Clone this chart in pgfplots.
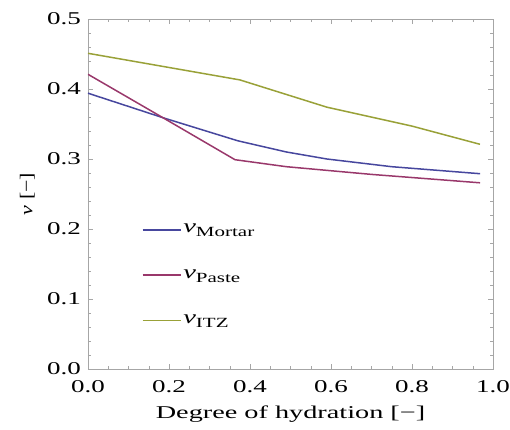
\documentclass[border=0pt]{standalone}
\usepackage{graphicx}
\usepackage{pgfplots}
\pgfplotsset{compat=1.18}
\usepackage{fontspec}
\setmainfont{Liberation Serif}
\definecolor{cM}{rgb}{0.28,0.28,0.62}
\definecolor{cP}{rgb}{0.60,0.22,0.42}
\definecolor{cI}{rgb}{0.60,0.63,0.22}
\newcommand\hs[1]{\scalebox{1.5}[1]{#1}}
\newcommand\nusub[1]{{\itshape ν}\raisebox{-4pt}{\fontsize{14}{16}\selectfont #1}}
\begin{document}
\fontsize{18}{20}\selectfont
\begin{tikzpicture}
\begin{axis}[
  scale only axis, width=405pt, height=350pt,
  xmin=0, xmax=1, ymin=0, ymax=0.5,
  xtick={0,0.2,...,1.0}, ytick={0,0.1,...,0.5},
  minor x tick num=3, minor y tick num=4,
  xticklabel={\hs{\pgfmathprintnumber[assume math mode=true,fixed,fixed zerofill,precision=1]{\tick}}},
  yticklabel={\hs{\pgfmathprintnumber[assume math mode=true,fixed,fixed zerofill,precision=1]{\tick}}},
  tick label style={font=\fontsize{18}{20}\selectfont},
  label style={font=\fontsize{18}{20}\selectfont},
  xlabel={\scalebox{1.57}[1]{Degree of hydration [−]}},
  ylabel={\scalebox{1.22}[1]{{\itshape ν} [−]}},
  axis line style={gray!70, line width=0.5pt},
  tick style={gray!70},
  major tick length=5pt, minor tick length=3pt,
  yticklabel style={xshift=-1pt},
  xticklabel style={yshift=-5pt},
  xlabel style={yshift=-1pt},
  ylabel style={yshift=0pt},
  legend style={at={(axis cs:0.125,0.213)}, anchor=north west, draw=none, fill=none,
    row sep=30pt, font=\fontsize{19}{20}\selectfont},
  legend cell align=left,
  legend image code/.code={\draw[#1, line width=1.5pt] (0pt,0pt) -- (38pt,0pt);},
  every axis plot/.append style={line width=1.5pt},
]
\addplot[color=cM] coordinates {(0,0.394) (0.185,0.359) (0.37,0.326) (0.49,0.310) (0.59,0.300) (0.75,0.289) (0.968,0.279)};
\addlegendentry{\hs{\nusub{Mortar}}}
\addplot[color=cP] coordinates {(0,0.421) (0.185,0.359) (0.363,0.299) (0.49,0.289) (0.70,0.278) (0.968,0.266)};
\addlegendentry{\hs{\nusub{Paste}}}
\addplot[color=cI] coordinates {(0,0.451) (0.375,0.413) (0.59,0.374) (0.80,0.347) (0.968,0.321)};
\addlegendentry{\hs{\nusub{ITZ}}}
\end{axis}
\pgfresetboundingbox
\path (-88pt,-60pt) rectangle (422pt,369pt);
\end{tikzpicture}
\end{document}
